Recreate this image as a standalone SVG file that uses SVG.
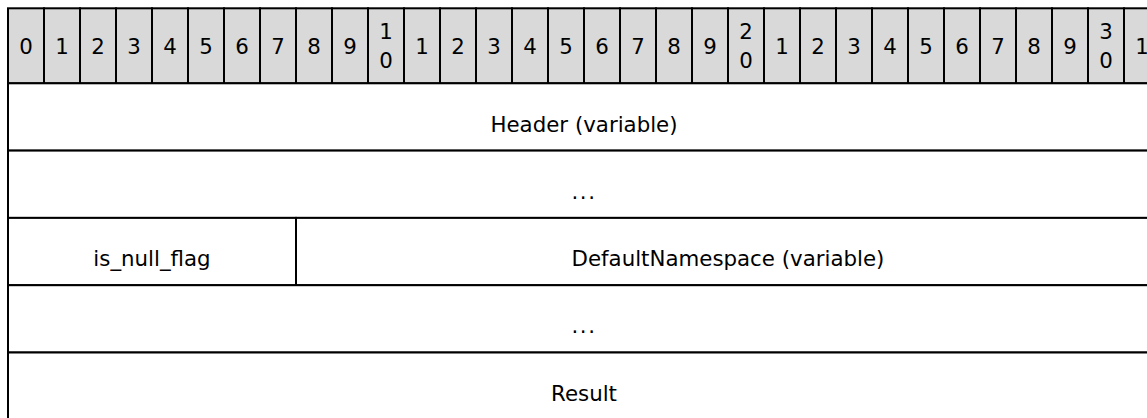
<svg xmlns="http://www.w3.org/2000/svg" width="1147" height="418" viewBox="0 0 1147 418">
<style>
.hc{fill:#d9d9d9;stroke:#000;stroke-width:2}
.f{fill:#fff;stroke:#000;stroke-width:2}
text{font-family:"DejaVu Sans","Verdana",sans-serif;font-size:21.33px;fill:#000;text-anchor:middle}
.dots{letter-spacing:1.5px}
</style>
<rect x="0" y="0" width="1147" height="418" fill="#fff"/>
<g id="header">
<rect class="hc" x="8" y="8.3" width="36" height="75"/>
<rect class="hc" x="44" y="8.3" width="36" height="75"/>
<rect class="hc" x="80" y="8.3" width="36" height="75"/>
<rect class="hc" x="116" y="8.3" width="36" height="75"/>
<rect class="hc" x="152" y="8.3" width="36" height="75"/>
<rect class="hc" x="188" y="8.3" width="36" height="75"/>
<rect class="hc" x="224" y="8.3" width="36" height="75"/>
<rect class="hc" x="260" y="8.3" width="36" height="75"/>
<rect class="hc" x="296" y="8.3" width="36" height="75"/>
<rect class="hc" x="332" y="8.3" width="36" height="75"/>
<rect class="hc" x="368" y="8.3" width="36" height="75"/>
<rect class="hc" x="404" y="8.3" width="36" height="75"/>
<rect class="hc" x="440" y="8.3" width="36" height="75"/>
<rect class="hc" x="476" y="8.3" width="36" height="75"/>
<rect class="hc" x="512" y="8.3" width="36" height="75"/>
<rect class="hc" x="548" y="8.3" width="36" height="75"/>
<rect class="hc" x="584" y="8.3" width="36" height="75"/>
<rect class="hc" x="620" y="8.3" width="36" height="75"/>
<rect class="hc" x="656" y="8.3" width="36" height="75"/>
<rect class="hc" x="692" y="8.3" width="36" height="75"/>
<rect class="hc" x="728" y="8.3" width="36" height="75"/>
<rect class="hc" x="764" y="8.3" width="36" height="75"/>
<rect class="hc" x="800" y="8.3" width="36" height="75"/>
<rect class="hc" x="836" y="8.3" width="36" height="75"/>
<rect class="hc" x="872" y="8.3" width="36" height="75"/>
<rect class="hc" x="908" y="8.3" width="36" height="75"/>
<rect class="hc" x="944" y="8.3" width="36" height="75"/>
<rect class="hc" x="980" y="8.3" width="36" height="75"/>
<rect class="hc" x="1016" y="8.3" width="36" height="75"/>
<rect class="hc" x="1052" y="8.3" width="36" height="75"/>
<rect class="hc" x="1088" y="8.3" width="36" height="75"/>
<rect class="hc" x="1124" y="8.3" width="36" height="75"/>
<text x="26" y="54">0</text>
<text x="62" y="54">1</text>
<text x="98" y="54">2</text>
<text x="134" y="54">3</text>
<text x="170" y="54">4</text>
<text x="206" y="54">5</text>
<text x="242" y="54">6</text>
<text x="278" y="54">7</text>
<text x="314" y="54">8</text>
<text x="350" y="54">9</text>
<text x="386" y="39">1</text><text x="386" y="68.3">0</text>
<text x="422" y="54">1</text>
<text x="458" y="54">2</text>
<text x="494" y="54">3</text>
<text x="530" y="54">4</text>
<text x="566" y="54">5</text>
<text x="602" y="54">6</text>
<text x="638" y="54">7</text>
<text x="674" y="54">8</text>
<text x="710" y="54">9</text>
<text x="746" y="39">2</text><text x="746" y="68.3">0</text>
<text x="782" y="54">1</text>
<text x="818" y="54">2</text>
<text x="854" y="54">3</text>
<text x="890" y="54">4</text>
<text x="926" y="54">5</text>
<text x="962" y="54">6</text>
<text x="998" y="54">7</text>
<text x="1034" y="54">8</text>
<text x="1070" y="54">9</text>
<text x="1106" y="39">3</text><text x="1106" y="68.3">0</text>
<text x="1142" y="54">1</text>
</g>
<g id="field-header">
<rect class="f" x="8" y="83.3" width="1152" height="67.3"/>
<text x="584" y="131.5">Header (variable)</text>
</g>
<g id="field-ellipsis-1">
<rect class="f" x="8" y="150.6" width="1152" height="67.3"/>
<text class="dots" x="584" y="198.8">...</text>
</g>
<g id="field-is_null_flag">
<rect class="f" x="8" y="217.9" width="288" height="67.3"/>
<text x="152" y="266.2">is_null_flag</text>
</g>
<g id="field-defaultnamespace">
<rect class="f" x="296" y="217.9" width="864" height="67.3"/>
<text x="728" y="266.2">DefaultNamespace (variable)</text>
</g>
<g id="field-ellipsis-2">
<rect class="f" x="8" y="285.2" width="1152" height="67.3"/>
<text class="dots" x="584" y="333.4">...</text>
</g>
<g id="field-result">
<rect class="f" x="8" y="352.5" width="1152" height="67.3"/>
<text x="584" y="400.7">Result</text>
</g>
<g id="connectors"></g>
</svg>
